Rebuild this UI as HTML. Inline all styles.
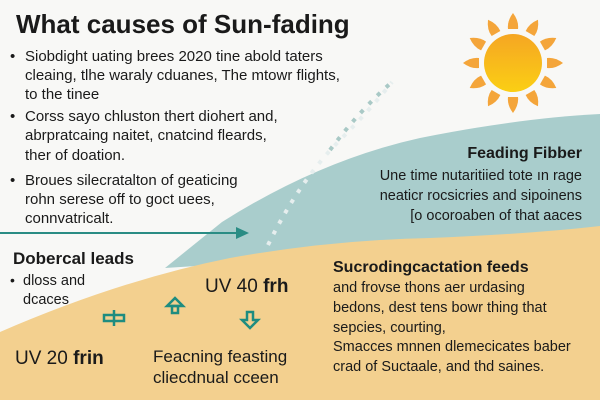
<!DOCTYPE html>
<html><head><style>
body{margin:0;width:600px;height:400px;overflow:hidden;background:#f8f8f6;font-family:"Liberation Sans",sans-serif;}
svg{position:absolute;left:0;top:0}
</style></head><body>
<svg width="600" height="400" viewBox="0 0 600 400">
<defs>
<linearGradient id="sg" x1="0" y1="0" x2="0" y2="1"><stop offset="0" stop-color="#f5a623"/><stop offset="1" stop-color="#fbcf14"/></linearGradient>
<path id="ray" d="M0,-50 Q6,-42 5,-34 L-5,-34 Q-6,-42 0,-50 Z" fill="#f4a53a"/>
</defs>
<rect width="600" height="400" fill="#f8f8f6"/>
<path d="M165,268 L222,222 Q320,160 420,138 Q520,118 600,114 L600,240 Z" fill="#a9cdcc"/>
<path d="M0,332 Q120,280 230,258 Q330,240 430,238 Q530,234 600,226 L600,400 L0,400 Z" fill="#f3d08f"/>
<path d="M268,245 Q300,180 340,140 Q370,110 392,82" fill="none" stroke="#e6eeee" stroke-width="4" stroke-dasharray="4,8"/>
<path d="M330,150 Q360,110 392,82" fill="none" stroke="#a9c9c6" stroke-width="4" stroke-dasharray="4,8"/>
<g transform="translate(513,63)">
<use href="#ray"/><use href="#ray" transform="rotate(30)"/><use href="#ray" transform="rotate(60)"/><use href="#ray" transform="rotate(90)"/>
<use href="#ray" transform="rotate(120)"/><use href="#ray" transform="rotate(150)"/><use href="#ray" transform="rotate(180)"/><use href="#ray" transform="rotate(210)"/>
<use href="#ray" transform="rotate(240)"/><use href="#ray" transform="rotate(270)"/><use href="#ray" transform="rotate(300)"/><use href="#ray" transform="rotate(330)"/>
<circle r="29" fill="url(#sg)"/>
</g>
<line x1="0" y1="233" x2="238" y2="233" stroke="#2a8c84" stroke-width="2"/>
<path d="M236,227 L249,233 L236,239 Z" fill="#2a8c84"/>
<g stroke="#1e8c80" stroke-width="2.5" fill="none">
<rect x="104" y="315" width="20" height="6"/><line x1="114" y1="310" x2="114" y2="326"/>
<path d="M167,306 L175,298 L183,306 Z"/><rect x="172" y="306" width="6" height="7"/>
<path d="M247,312 L253,312 L253,320 L258,320 L250,328 L242,320 L247,320 Z"/>
</g>
<g fill="#1a1a1a">
<text x="16" y="33" font-size="26" font-weight="bold">What causes of Sun-fading</text>
<g font-size="15">
<text x="10" y="61">•</text><text x="25" y="61">Siobdight uating brees 2020 tine abold taters</text>
<text x="25" y="80">cleaing, tlhe waraly cduanes, The mtowr flights,</text>
<text x="25" y="99">to the tinee</text>
<text x="10" y="121">•</text><text x="25" y="121">Corss sayo chluston thert diohert and,</text>
<text x="25" y="140">abrpratcaing naitet, cnatcind fleards,</text>
<text x="25" y="160">ther of doation.</text>
<text x="10" y="185">•</text><text x="25" y="185">Broues silecratalton of geaticing</text>
<text x="25" y="204">rohn serese off to goct uees,</text>
<text x="25" y="223">connvatricalt.</text>
</g>
<text x="13" y="264" font-size="17" font-weight="bold">Dobercal leads</text>
<text x="10" y="285" font-size="14">•</text><text x="23" y="285" font-size="14.5">dloss and</text>
<text x="23" y="304" font-size="14.5">dcaces</text>
<text x="205" y="292" font-size="19">UV 40 <tspan font-weight="bold">frh</tspan></text>
<text x="15" y="364" font-size="19">UV 20 <tspan font-weight="bold">frin</tspan></text>
<text x="153" y="362" font-size="17">Feacning feasting</text>
<text x="153" y="383" font-size="17">cliecdnual cceen</text>
<text x="582" y="158" font-size="16" font-weight="bold" text-anchor="end">Feading Fibber</text>
<g font-size="14.5" text-anchor="end">
<text x="582" y="180">Une time nutaritiied tote ın rage</text>
<text x="582" y="200">neaticr rocsicries and sipoinens</text>
<text x="582" y="220">[o ocoroaben of that aaces</text>
</g>
<text x="333" y="272" font-size="16" font-weight="bold">Sucrodingcactation feeds</text>
<g font-size="14.5">
<text x="333" y="292">and frovse thons aer urdasing</text>
<text x="333" y="312">bedons, dest tens bowr thing that</text>
<text x="333" y="332">sepcies, courting,</text>
<text x="333" y="351">Smacces mnnen dlemecicates baber</text>
<text x="333" y="371">crad of Suctaale, and thd saines.</text>
</g>
</g>
</svg>
</body></html>
